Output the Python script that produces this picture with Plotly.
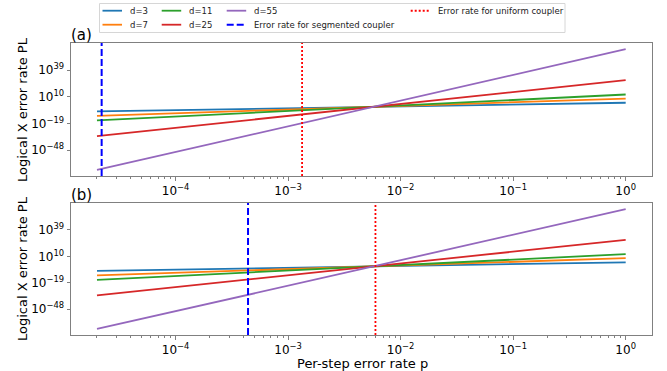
import plotly.graph_objects as go

W, H = 667, 371

# ---- data ----
p_ends = [2e-5, 1.0]
distances = [3, 7, 11, 25, 55]
logPL_start = [-5.9, -10.8, -15.7, -32.9, -69.7]   # log10 PL at p = 2e-5
logPL_end = [3.5, 8.0, 12.5, 28.2, 61.8]           # log10 PL at p = 1
segmented_p = [2.2e-5, 4.4e-4]   # panel (a), panel (b)
uniform_p = [1.33e-3, 5.97e-3]
x_tickvals = [1e-4, 1e-3, 1e-2, 1e-1, 1]
x_ticktext = ["10<sup>−4</sup>", "10<sup>−3</sup>", "10<sup>−2</sup>", "10<sup>−1</sup>", "10<sup>0</sup>"]
y_tickvals = [1e-48, 1e-19, 1e10, 1e39]
y_ticktext = ["10<sup>−48</sup>", "10<sup>−19</sup>", "10<sup>10</sup>", "10<sup>39</sup>"]
panel_labels = ["(a)", "(b)"]
seg_label = "Error rate for segmented coupler"
uni_label = "Error rate for uniform coupler"

colors = ["#1f77b4", "#ff7f0e", "#2ca02c", "#d62728", "#9467bd"]
SEG_COLOR, UNI_COLOR = "#0000ff", "#ff0000"
SEG_DASH, UNI_DASH = "7px,3px", "2px,2px"
x_range = [-4.93, 0.234]
y_range = [-76.3, 68.6]


def px(x):
    return x / W


def py(y):
    return 1 - y / H


FONT = "DejaVu Sans"
fig = go.Figure()

for i in range(2):
    xa = "x" if i == 0 else "x2"
    ya = "y" if i == 0 else "y2"
    for d, s, e, c in zip(distances, logPL_start, logPL_end, colors):
        fig.add_trace(go.Scatter(
            x=p_ends, y=[10 ** s, 10 ** e], mode="lines",
            line=dict(color=c, width=1.8), name=f"d={d}",
            xaxis=xa, yaxis=ya, showlegend=False))
    fig.add_trace(go.Scatter(
        x=[segmented_p[i]] * 2, y=[10 ** y_range[0], 10 ** y_range[1]], mode="lines",
        line=dict(color=SEG_COLOR, width=2, dash=SEG_DASH),
        name=seg_label, xaxis=xa, yaxis=ya, showlegend=False))
    fig.add_trace(go.Scatter(
        x=[uniform_p[i]] * 2, y=[10 ** y_range[0], 10 ** y_range[1]], mode="lines",
        line=dict(color=UNI_COLOR, width=1.8, dash=UNI_DASH),
        name=uni_label, xaxis=xa, yaxis=ya, showlegend=False))

minor_vals = []
for ex in range(-5, 1):
    for k in range(2, 10):
        minor_vals.append(k * 10 ** ex)

axcol = "#808080"
xdom = [px(71), px(652)]
xcommon = dict(type="log", range=x_range, domain=xdom, showgrid=False, zeroline=False,
               showline=True, mirror=True, linecolor=axcol, linewidth=1,
               ticks="outside", ticklen=3.5, tickcolor=axcol,
               tickvals=x_tickvals, ticktext=x_ticktext,
               tickfont=dict(family=FONT, size=12, color="black"),
               minor=dict(ticks="outside", ticklen=2, tickcolor=axcol, tickvals=minor_vals))
ycommon = dict(type="log", range=y_range, showgrid=False, zeroline=False,
               showline=True, mirror=True, linecolor=axcol, linewidth=1,
               ticks="outside", ticklen=3.5, tickcolor=axcol,
               tickvals=y_tickvals, ticktext=y_ticktext,
               tickfont=dict(family=FONT, size=12, color="black"))

# ---- manual legend (matplotlib-like 4-column layout) ----
legend_items = [
    (f"d={distances[0]}", colors[0], "solid", 0, 0),
    (f"d={distances[1]}", colors[1], "solid", 0, 1),
    (f"d={distances[2]}", colors[2], "solid", 1, 0),
    (f"d={distances[3]}", colors[3], "solid", 1, 1),
    (f"d={distances[4]}", colors[4], "solid", 2, 0),
    (seg_label, SEG_COLOR, SEG_DASH, 2, 1),
    (uni_label, UNI_COLOR, UNI_DASH, 3, 0),
]
col_x = [102.5, 161.7, 226.7, 410.7]
row_y = [10.7, 24.7]
shapes = [dict(type="rect", xref="paper", yref="paper",
               x0=px(99.5), x1=px(565), y0=py(32.5), y1=py(3.5),
               line=dict(color="#d6d6d6", width=1), fillcolor="white", layer="below")]
ann = []
for name, col, dash, c, r in legend_items:
    x0 = col_x[c]
    yy = row_y[r]
    shapes.append(dict(type="line", xref="paper", yref="paper",
                       x0=px(x0), x1=px(x0 + 19.5), y0=py(yy), y1=py(yy),
                       line=dict(color=col, width=2 if dash != "solid" else 1.8, dash=dash)))
    ann.append(dict(text=name, x=px(x0 + 25), y=py(yy), xref="paper", yref="paper",
                    xanchor="left", yanchor="middle", showarrow=False,
                    font=dict(family=FONT, size=8.5, color="#222")))

for lbl, yc in zip(panel_labels, [35, 195]):
    ann.append(dict(text=lbl, x=px(69), y=py(yc), xref="paper", yref="paper",
                    xanchor="left", yanchor="middle", showarrow=False,
                    font=dict(family=FONT, size=15, color="black")))
for yc in [110, 269]:
    ann.append(dict(text="Logical X error rate PL", x=px(22), y=py(yc), xref="paper", yref="paper",
                    xanchor="center", yanchor="middle", textangle=-90, showarrow=False,
                    font=dict(family=FONT, size=13, color="black")))
ann.append(dict(text="Per-step error rate p", x=px(362), y=py(363), xref="paper", yref="paper",
                xanchor="center", yanchor="middle", showarrow=False,
                font=dict(family=FONT, size=13, color="black")))

fig.update_layout(
    width=W, height=H, margin=dict(l=0, r=0, t=0, b=0, autoexpand=False),
    paper_bgcolor="white", plot_bgcolor="white",
    font=dict(family=FONT), showlegend=False,
    xaxis=dict(anchor="y", **xcommon),
    yaxis=dict(anchor="x", domain=[py(176), py(43)], **ycommon),
    xaxis2=dict(anchor="y2", **xcommon),
    yaxis2=dict(anchor="x2", domain=[py(335), py(203)], **ycommon),
    shapes=shapes, annotations=ann,
)

fig.write_html("out.html")
